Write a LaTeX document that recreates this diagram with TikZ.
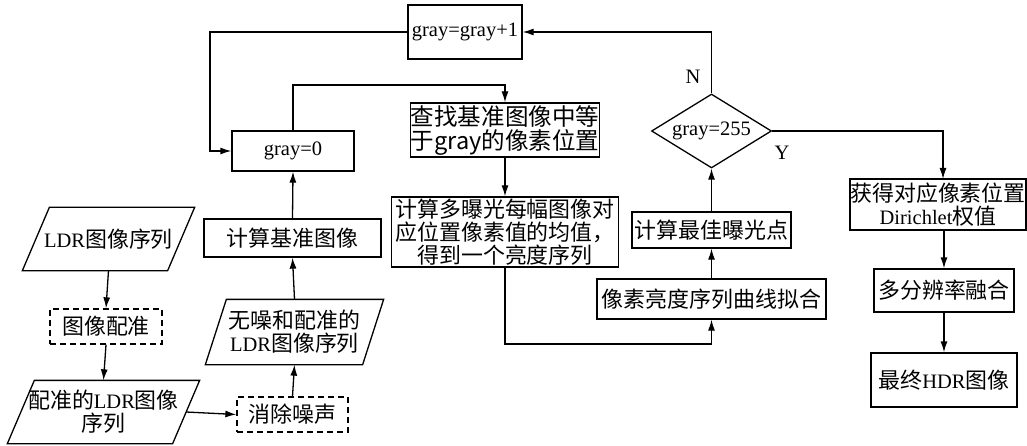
\documentclass[tikz,border=0pt]{standalone}
\usepackage{fontspec}
\setmainfont{Liberation Serif}
\newfontfamily\cjk[Scale=1.07]{Noto Sans CJK SC}
\usetikzlibrary{arrows.meta,shapes.geometric}
\newcommand\zhs[1]{{\cjk #1}}
\begin{document}
\begin{tikzpicture}[x=1pt,y=-1pt,line width=1.3pt,
  >={Latex[length=11pt,width=7pt]},
  every node/.style={font=\fontsize{20.5}{23}\selectfont,inner sep=0pt,align=center},
  box/.style={draw,rectangle},
  dbox/.style={draw,rectangle,dash pattern=on 6pt off 4pt},
  pbox/.style={rectangle},
  lbl/.style={font=\fontsize{20.5}{23}\selectfont}]
\useasboundingbox (0,0) rectangle (1027,446);

% left column
\node[pbox,minimum width=144pt,minimum height=62pt] (ldr) at (108.5,239) {LDR\zhs{图像序列}};
\node[dbox,minimum width=112pt,minimum height=35pt] (reg) at (106,326.5) {\zhs{图像配准}};
\node[pbox,minimum width=164pt,minimum height=62pt] (rldr) at (103.5,412) {\zhs{配准的}LDR\zhs{图像}\\\zhs{序列}};
\node[dbox,minimum width=111pt,minimum height=35pt] (den) at (292.5,414.5) {\zhs{消除噪声}};
\node[pbox,minimum width=156pt,minimum height=64pt] (nldr) at (294.5,332) {\zhs{无噪和配准的}\\LDR\zhs{图像序列}};
\node[box,minimum width=177pt,minimum height=38pt] (base) at (292.5,238) {\zhs{计算基准图像}};
\node[box,minimum width=122pt,minimum height=40pt] (g0) at (293,151) {gray=0};
\node[box,minimum width=114pt,minimum height=54pt] (inc) at (465,32) {gray=gray+1};

% parallelogram outlines
\draw ([xshift=13.5pt]ldr.north west) -- ([xshift=13.5pt]ldr.north east) -- ([xshift=-13.5pt]ldr.south east) -- ([xshift=-13.5pt]ldr.south west) -- cycle;
\draw ([xshift=13.5pt]rldr.north west) -- ([xshift=13.5pt]rldr.north east) -- ([xshift=-13.5pt]rldr.south east) -- ([xshift=-13.5pt]rldr.south west) -- cycle;
\draw ([xshift=10.5pt]nldr.north west) -- ([xshift=10.5pt]nldr.north east) -- ([xshift=-10.5pt]nldr.south east) -- ([xshift=-10.5pt]nldr.south west) -- cycle;

% middle
\node[box,minimum width=179pt,minimum height=54pt,font=\fontsize{22}{24}\selectfont] (find) at (505,130) {\zhs{查找基准图像中等}\\\zhs{于gray的像素位置}};
\node[box,minimum width=227pt,minimum height=70pt] (avg) at (505,232) {\zhs{计算多曝光每幅图像对}\\\zhs{应位置像素值的均值，}\\\zhs{得到一个亮度序列}};
\node[box,minimum width=229pt,minimum height=40pt] (fit) at (711.5,299) {\zhs{像素亮度序列曲线拟合}};
\node[box,minimum width=159pt,minimum height=36pt] (best) at (711.5,230) {\zhs{计算最佳曝光点}};
\node[draw,diamond,aspect=1.62,minimum width=120pt,minimum height=74pt] (dia) at (711.5,131) {gray=255};

% right
\node[box,minimum width=176pt,minimum height=51pt] (get) at (938,204.5) {\zhs{获得对应像素位置}\\Dirichlet\zhs{权值}};
\node[box,minimum width=140pt,minimum height=43pt] (multi) at (944,290.5) {\zhs{多分辨率融合}};
\node[box,minimum width=146pt,minimum height=54pt] (hdr) at (944,380) {\zhs{最终}HDR\zhs{图像}};

\node[lbl] (nlab) at (693,77) {N};
\node[lbl] (ylab) at (782,153) {Y};

\coordinate (c1) at (210,32);
\coordinate (c2) at (210,151);
\coordinate (c3) at (293,85);
\coordinate (c4) at (505,85);
\coordinate (c5) at (505,344);
\coordinate (c6) at (711.5,344);
\coordinate (c7) at (711.5,32);
\coordinate (c8) at (943,131);
\coordinate (c9) at (943,179);

% connectors
\draw[->] (ldr.south) -- (reg.north);
\draw[->] (reg.south) -- (rldr.north);
\draw[->] (rldr.east) -- (den.west);
\draw[->] (den.north) -- (nldr.south);
\draw[->] (nldr.north) -- (base.south);
\draw[->] (base.north) -- (g0.south);
\draw[->] (inc.west) -- (c1) -- (c2) -- (g0.west);
\draw[->] (g0.north) -- (c3) -- (c4) -- (find.north);
\draw[->] (find.south) -- (avg.north);
\draw[->] (avg.south) -- (c5) -- (c6) -- (fit.south);
\draw[->] (fit.north) -- (best.south);
\draw[->] (best.north) -- (dia.south);
\draw[->] (dia.north) -- (c7) -- (inc.east);
\draw[->] (dia.east) -- (c8) -- (c9);
\draw[->] (get.south -| multi.north) -- (multi.north);
\draw[->] (multi.south) -- (hdr.north);
\end{tikzpicture}
\end{document}
